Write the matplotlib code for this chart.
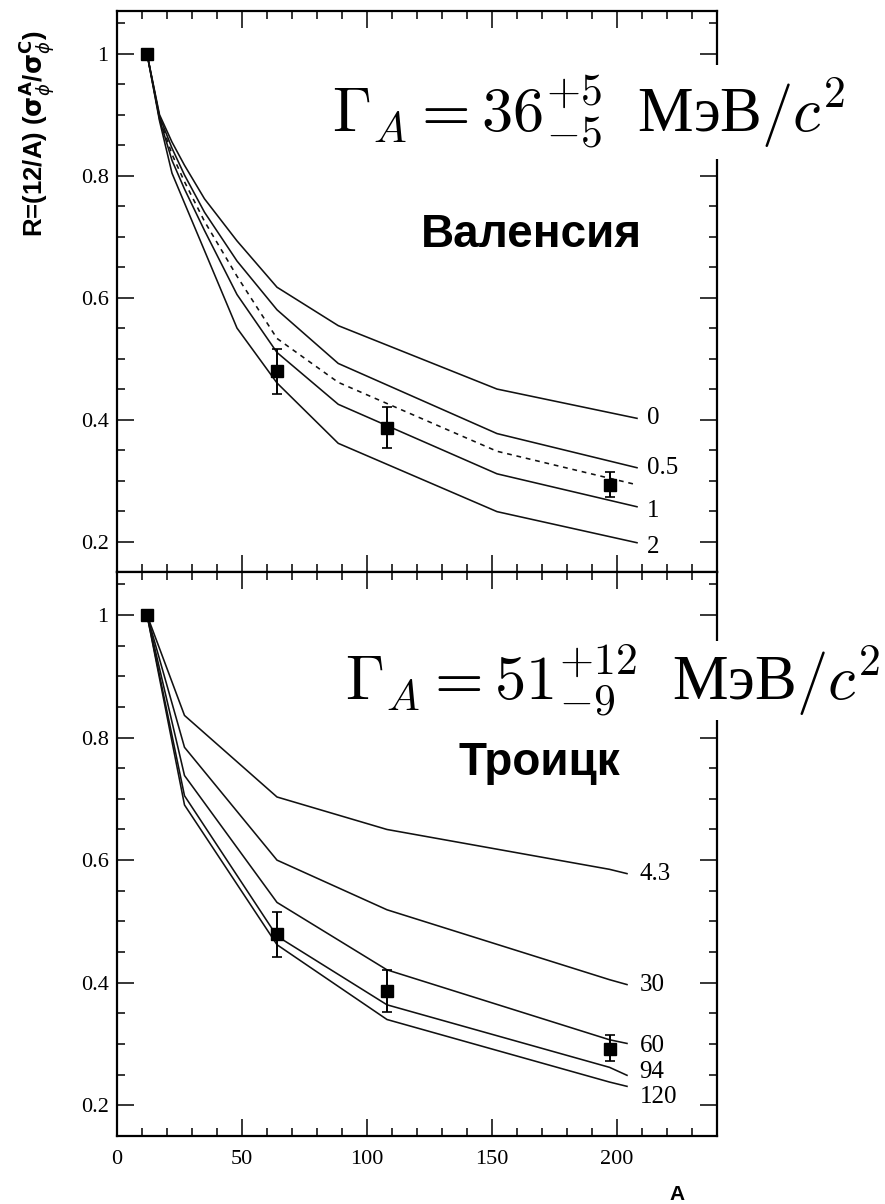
import matplotlib
matplotlib.use('Agg')
import matplotlib.pyplot as plt
from matplotlib.ticker import MultipleLocator, FuncFormatter

# ---------------- data ----------------
# top panel (Valencia model), curves labelled by parameter
A_top = [12, 17, 22, 27, 35, 48, 64, 88.5, 152, 208]
R_top_0 = [1.0, 0.900, 0.855, 0.817, 0.762, 0.693, 0.617, 0.554, 0.450, 0.402]
R_top_05 = [1.0, 0.897, 0.845, 0.801, 0.740, 0.660, 0.580, 0.492, 0.377, 0.321]
R_top_dash = [1.0, 0.895, 0.835, 0.790, 0.725, 0.635, 0.533, 0.461, 0.348, 0.293]
R_top_1 = [1.0, 0.893, 0.825, 0.778, 0.710, 0.605, 0.510, 0.425, 0.311, 0.257]
R_top_2 = [1.0, 0.890, 0.804, 0.755, 0.677, 0.550, 0.460, 0.361, 0.249, 0.198]
top_labels = ["0", "0.5", "1", "2"]

# bottom panel (Troitsk model)
A_bot = [12, 27, 64, 108, 197, 204]
R_bot_43 = [1.0, 0.836, 0.703, 0.650, 0.585, 0.578]
R_bot_30 = [1.0, 0.784, 0.600, 0.519, 0.405, 0.397]
R_bot_60 = [1.0, 0.738, 0.531, 0.421, 0.307, 0.301]
R_bot_94 = [1.0, 0.705, 0.476, 0.364, 0.262, 0.249]
R_bot_120 = [1.0, 0.690, 0.462, 0.340, 0.238, 0.231]
bot_labels = ["4.3", "30", "60", "94", "120"]

# experimental points
A_data = [12, 64, 108, 197]
R_data = [1.0, 0.479, 0.386, 0.292]
err_up = [0.0, 0.036, 0.035, 0.022]
err_dn = [0.0, 0.037, 0.033, 0.019]

y_ticks = [0.2, 0.4, 0.6, 0.8, 1.0]
x_ticks = [0, 50, 100, 150, 200]

# ---------------- figure ----------------
W, H = 885, 1204
fig = plt.figure(figsize=(W / 100, H / 100), dpi=100)

def fx(px):
    return px / W

def fy(py):
    return 1 - py / H

ax1 = fig.add_axes([fx(117), fy(572), fx(717) - fx(117), fy(11) - fy(572)])
ax2 = fig.add_axes([fx(117), fy(1136), fx(717) - fx(117), fy(572) - fy(1136)])

serif = 'Liberation Serif'
tick_fs = 16
lab_fs = 18
lw = 1.15
col = '#111111'

for ax in (ax1, ax2):
    ax.set_xlim(0, 240)
    ax.set_ylim(0.15, 1.07)
    ax.set_xticks(x_ticks)
    ax.xaxis.set_minor_locator(MultipleLocator(10))
    ax.set_yticks(y_ticks)
    ax.yaxis.set_minor_locator(MultipleLocator(0.05))
    ax.yaxis.set_major_formatter(FuncFormatter(lambda v, p: '%g' % v))
    ax.tick_params(which='both', direction='in', top=True, right=True,
                   width=1.1, colors='black')
    ax.tick_params(which='major', length=12.5)
    ax.tick_params(which='minor', length=5.5)
    ax.tick_params(axis='y', pad=6)
    ax.tick_params(axis='x', pad=10)
    for lbl in ax.get_xticklabels() + ax.get_yticklabels():
        lbl.set_fontfamily(serif)
        lbl.set_fontsize(tick_fs)
    for sp in ax.spines.values():
        sp.set_linewidth(1.6)

ax1.tick_params(axis='x', labelbottom=False)

# top curves
for R, lab in zip([R_top_0, R_top_05, R_top_1, R_top_2], top_labels):
    ax1.plot(A_top, R, color=col, lw=lw)
    ax1.text(212, R[-1] - (0.0 if lab in ("0", "0.5") else 0.007), lab,
             fontfamily=serif, fontsize=lab_fs, ha='left', va='center')
ax1.plot(A_top, R_top_dash, color=col, lw=lw, ls=(0, (3, 3)))

# bottom curves
bot_curves = [R_bot_43, R_bot_30, R_bot_60, R_bot_94, R_bot_120]
bot_offs = [0.0, 0.0, -0.005, 0.005, -0.017]
for R, lab, off in zip(bot_curves, bot_labels, bot_offs):
    ax2.plot(A_bot, R, color=col, lw=lw)
    ax2.text(209, R[-1] + off, lab, fontfamily=serif, fontsize=lab_fs,
             ha='left', va='center')

# data points
for ax in (ax1, ax2):
    ax.errorbar(A_data[1:], R_data[1:], yerr=[err_dn[1:], err_up[1:]],
                fmt='s', color='black', ms=8, capsize=3.5,
                elinewidth=1.4, capthick=1.2, zorder=5)
    ax.plot(A_data[:1], R_data[:1], 's', color='black', ms=8, zorder=5)

# formulas with white background covering the right spine
fig.text(fx(332), fy(132), r'$\Gamma_A = 36^{+5}_{-5}$  МэВ$/c^2$',
         fontfamily=serif, math_fontfamily='cm', fontsize=45,
         ha='left', va='baseline', zorder=10,
         bbox=dict(facecolor='white', edgecolor='none', pad=6))
fig.text(fx(345), fy(700), r'$\Gamma_A = 51^{+12}_{-9}$  МэВ$/c^2$',
         fontfamily=serif, math_fontfamily='cm', fontsize=45,
         ha='left', va='baseline', zorder=10,
         bbox=dict(facecolor='white', edgecolor='none', pad=1))

# model names
fig.text(fx(531), fy(247), 'Валенсия', fontfamily='Liberation Sans',
         fontweight='bold', fontsize=33, ha='center', va='baseline')
fig.text(fx(539), fy(775), 'Троицк', fontfamily='Liberation Sans',
         fontweight='bold', fontsize=33, ha='center', va='baseline')

# axis labels
fig.text(fx(36), fy(134), r'R=(12/A) ($\mathbf{\sigma}_{\phi}^{\mathbf{A}}$/$\mathbf{\sigma}_{\phi}^{\mathbf{C}}$)',
         fontfamily='Liberation Sans', fontweight='bold', fontsize=18.5,
         math_fontfamily='dejavusans', rotation=90, ha='center', va='center')
fig.text(fx(677), fy(1195), 'A', fontfamily='Liberation Sans',
         fontweight='bold', fontsize=15, ha='center', va='center')

fig.savefig('out.png', dpi=100)
